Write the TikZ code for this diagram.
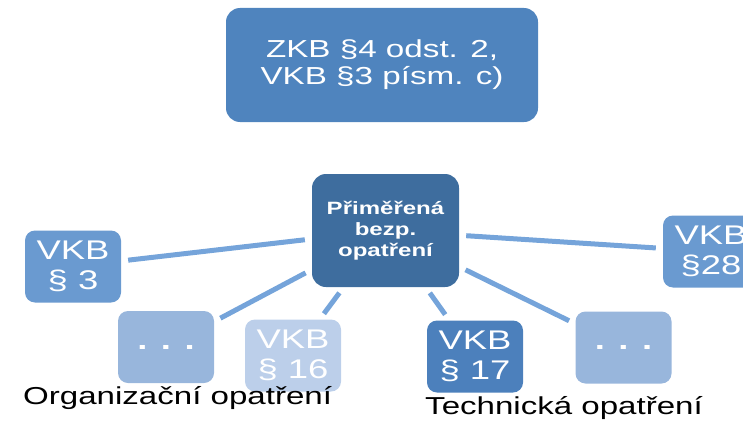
\documentclass[tikz,border=0pt]{standalone}
\usepackage{fontspec}
\setmainfont{Liberation Sans}[FakeStretch=1.35]

\definecolor{topblue}{HTML}{4F84BE}
\definecolor{hubblue}{HTML}{3E6D9E}
\definecolor{midblue}{HTML}{6A9AD0}
\definecolor{paleblue}{HTML}{98B6DC}
\definecolor{faintblue}{HTML}{BCCFEA}
\definecolor{deepblue}{HTML}{4C80BC}
\definecolor{linkblue}{HTML}{75A4DA}

\begin{document}
\begin{tikzpicture}[x=1pt,y=-1pt,
  card/.style={rectangle, rounded corners=10pt, text=white, align=center,
    inner sep=0pt, minimum width=96pt, minimum height=72pt,
    font=\fontsize{27}{30}\selectfont},
  dots/.style={card, font=\fontsize{27}{30}\selectfont\bfseries},
  link/.style={line width=5pt, draw=linkblue, shorten >=7pt, shorten <=7pt},
  caption/.style={anchor=base west, inner sep=0pt, text=black,
    font=\fontsize{24.5}{28}\selectfont}]
\useasboundingbox (0,0) rectangle (743,420);
\clip (0,0) rectangle (743,420);

% heading box
\node[card, fill=topblue, minimum width=312pt, minimum height=114pt,
  rounded corners=14pt, font=\fontsize{24.6}{27}\selectfont]
  (law) at (382,65) {ZKB §4 odst. 2,\\VKB §3 písm. c)};

% hub
\node[card, fill=hubblue, minimum width=147pt, minimum height=113pt,
  rounded corners=14pt, font=\fontsize{17.8}{21}\selectfont\bfseries]
  (hub) at (385.5,230.5) {Přiměřená\\bezp.\\opatření};

% satellites
\node[card, fill=midblue]   (v3)  at (73,266.5)    {VKB\\§ 3};
\node[dots, fill=paleblue]  (ol)  at (166,347)     {. . .};
\node[card, fill=faintblue] (v16) at (293,355.5)   {VKB\\§ 16};
\node[card, fill=deepblue]  (v17) at (475,356.5)   {VKB\\§ 17};
\node[dots, fill=paleblue]  (tr)  at (623.5,347.5) {. . .};
\node[card, fill=midblue]   (v28) at (711,251.5)   {VKB\\§28};

% spokes
\foreach \s in {v3,ol,v16,v17,tr,v28}
  \draw[link] (hub) -- (\s);

% group captions
\node[caption] (org) at (23,404) {Organizační opatření};
\node[caption] (tech) at (425,414) {Technická opatření};
\end{tikzpicture}
\end{document}
